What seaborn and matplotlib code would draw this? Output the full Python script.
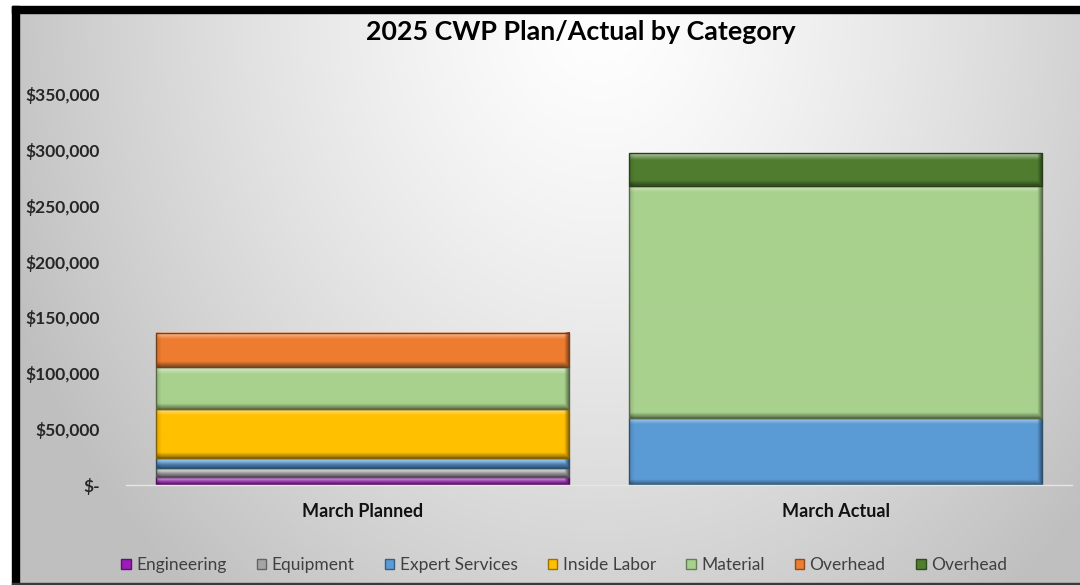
import numpy as np
import matplotlib
matplotlib.use("Agg")
import matplotlib.pyplot as plt
import seaborn as sns
from matplotlib.patches import Rectangle, Patch
from matplotlib.ticker import FuncFormatter
import matplotlib.colors as mcolors

# ---- data -------------------------------------------------------------
categories = ["March Planned", "March Actual"]
series_names = ["Engineering", "Equipment", "Expert Services", "Inside Labor",
                "Material", "Overhead", "Overhead"]
engineering = [7000, 0]
equipment = [8000, 0]
expert_services = [9000, 60000]
inside_labor = [44000, 0]
material = [37500, 208000]
overhead_planned = [31000, 0]
overhead_actual = [0, 29500]
series_values = [engineering, equipment, expert_services, inside_labor,
                 material, overhead_planned, overhead_actual]
series_colors = ["#9C1CB8", "#A5A5A5", "#5B9BD5", "#FFC000",
                 "#A9D18E", "#ED7D31", "#507D30"]
y_ticks = [0, 50000, 100000, 150000, 200000, 250000, 300000, 350000]
title = "2025 CWP Plan/Actual by Category"

# ---- style ------------------------------------------------------------
sns.set_theme(style="white")
plt.rcParams["font.family"] = ["Lato", "DejaVu Sans"]

W, H = 1080, 585
fig = plt.figure(figsize=(W / 100, H / 100), dpi=100, facecolor="white")


def fx(px):
    return px / W


def fy(py):
    return 1 - py / H


# soft radial background of the chart area
bg = fig.add_axes([fx(19), fy(583), (1080 - 19) / W, (583 - 13) / H], zorder=0)
yy, xx = np.mgrid[13:583, 19:1080]
d = np.sqrt(((xx - 600) / 640.0) ** 2 + ((yy - 10) / 760.0) ** 2)
d = np.clip(d, 0, 1)
val = 1.0 - 0.25 * d ** 1.3
bg.imshow(np.dstack([val, val, val]), aspect="auto", extent=(0, 1, 0, 1),
          interpolation="bilinear")
bg.set_axis_off()

# ---- main axes --------------------------------------------------------
ax = fig.add_axes([fx(126), fy(485), (1072 - 126) / W, (485 - 94) / H], zorder=1)
ax.set_facecolor("none")

cats = np.array(categories)
bottom = np.zeros(len(categories))
for name, vals, col in zip(series_names, series_values, series_colors):
    vals = np.asarray(vals, dtype=float)
    mask = vals > 0
    edge = tuple(np.array(mcolors.to_rgb(col)) * 0.5)
    sns.barplot(x=cats[mask], y=vals[mask], order=categories,
                bottom=bottom[mask], width=0.875, color=col,
                saturation=1, edgecolor=edge, linewidth=1.0,
                errorbar=None, ax=ax)
    bottom = bottom + vals

ax.set_xlim(-0.5, 1.5)
ax.set_ylim(0, 350000)


def bevel_image(rgb, h, w, b=6.5):
    """Shaded fill: light rim on top, dark rim at bottom and right."""
    base = np.ones((h, w, 3)) * np.asarray(rgb)[None, None, :]
    r = np.arange(h)[:, None] * np.ones((1, w))
    c = np.ones((h, 1)) * np.arange(w)[None, :]
    top = np.clip(1 - r / b, 0, 1)
    bot = np.clip(1 - (h - 1 - r) / (b * 0.8), 0, 1)
    left = np.clip(1 - c / (b * 0.8), 0, 1)
    right = np.clip(1 - (w - 1 - c) / (b * 0.8), 0, 1)
    light = 0.55 * top * (1 - right)
    dark = np.maximum(0.42 * bot, 0.5 * right) + 0.14 * left
    img = base + (1 - base) * light[..., None]
    img = img * (1 - np.clip(dark, 0, 0.8)[..., None])
    return np.clip(img, 0, 1)


# give every bar segment a bevelled look
fig.canvas.draw()
for patch in list(ax.patches):
    x0, y0 = patch.get_x(), patch.get_y()
    x1, y1 = x0 + patch.get_width(), y0 + patch.get_height()
    (px0, py0), (px1, py1) = ax.transData.transform([(x0, y0), (x1, y1)])
    h = max(int(round(abs(py1 - py0))), 2)
    w = max(int(round(abs(px1 - px0))), 2)
    img = bevel_image(mcolors.to_rgb(patch.get_facecolor()), h, w)
    ax.imshow(img, extent=(x0, x1, y0, y1), aspect="auto", origin="upper",
              interpolation="bilinear", zorder=patch.get_zorder() + 0.05)
    patch.set_facecolor("none")
    patch.set_zorder(patch.get_zorder() + 0.1)

ax.set_xlim(-0.5, 1.5)
ax.set_ylim(0, 350000)
ax.set_aspect("auto")
ax.set_yticks(y_ticks)
ax.set_xticks([0, 1])
ax.set_xticklabels(categories)
ax.yaxis.set_major_formatter(
    FuncFormatter(lambda v, p: "$-" if v == 0 else f"${v:,.0f}"))
ax.tick_params(axis="y", length=0, pad=19, labelsize=12.5, labelcolor="#262626")
ax.tick_params(axis="x", length=0, pad=13, labelsize=13, labelcolor="#111111")
for lab in ax.get_yticklabels() + ax.get_xticklabels():
    lab.set_fontweight("bold")
ax.set_xlabel("")
ax.set_ylabel("")
for side in ["top", "right", "left"]:
    ax.spines[side].set_visible(False)
ax.spines["bottom"].set_color("#e6e6e6")
ax.spines["bottom"].set_linewidth(1.0)
ax.grid(False)

# ---- title and legend -------------------------------------------------
fig.text(fx(581), fy(32), title, ha="center", va="center",
         fontsize=19.3, fontweight="bold", color="#000000")

handles = [Patch(facecolor=c, edgecolor=tuple(np.array(mcolors.to_rgb(c)) * 0.6))
           for c in series_colors]
fig.legend(handles, series_names, ncol=7, loc="center",
           bbox_to_anchor=(fx(564), fy(565)), frameon=False,
           handlelength=0.55, handleheight=0.55, handletextpad=0.3,
           columnspacing=1.75, fontsize=12.5, labelcolor="#404040")

# ---- frame ------------------------------------------------------------
fig.add_artist(Rectangle((fx(12), fy(13)), (W - 12) / W, 7 / H,
                         transform=fig.transFigure, color="black", zorder=5))
fig.add_artist(Rectangle((fx(12), 0), 7 / W, fy(6),
                         transform=fig.transFigure, color="black", zorder=5))
fig.add_artist(Rectangle((fx(12), 0), (W - 12) / W, 2 / H,
                         transform=fig.transFigure, color="#3a3a3a", zorder=5))

fig.savefig("out.png", dpi=100, facecolor="white")
